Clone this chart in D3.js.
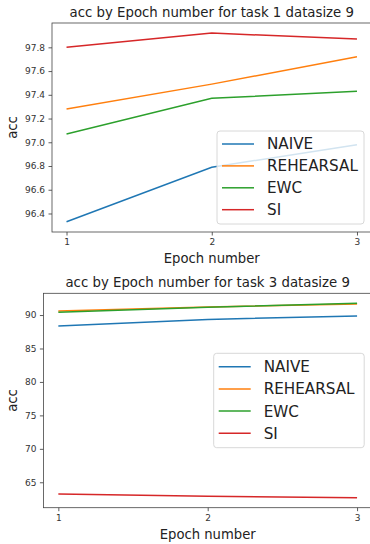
<!DOCTYPE html>
<html>
<head>
<meta charset="utf-8">
<script src="https://cdn.jsdelivr.net/npm/d3@7"></script>
<style>
  body { margin: 0; background: #fff; }
  svg { display: block; font-family: "DejaVu Sans", sans-serif; }
</style>
</head>
<body>
<script>
const epochs = [1, 2, 3];
const methods = ["NAIVE", "REHEARSAL", "EWC", "SI"];
const colors = ["#1f77b4", "#ff7f0e", "#2ca02c", "#d62728"];

// task 1
const task1Naive = [96.33, 96.79, 96.98];
const task1Rehearsal = [97.28, 97.49, 97.72];
const task1Ewc = [97.07, 97.37, 97.43];
const task1Si = [97.80, 97.92, 97.87];
const task1Ticks = [96.4, 96.6, 96.8, 97.0, 97.2, 97.4, 97.6, 97.8];

// task 3
const task3Naive = [88.35, 89.35, 89.85];
const task3Rehearsal = [90.6, 91.2, 91.65];
const task3Ewc = [90.4, 91.15, 91.75];
const task3Si = [63.25, 62.9, 62.7];
const task3Ticks = [65, 70, 75, 80, 85, 90];

const width = 370, height = 544;
let svg = d3.select("body").append("svg")
    .attr("width", width)
    .attr("height", height);

function drawPanel(opts) {
    const {left, top, right, bottom, title, values, ticks, yDomain, fmt, legend} = opts;
    let g = svg.append("g");

    let x = d3.scaleLinear().domain([0.9, 3.1]).range([left, right]);
    let y = d3.scaleLinear().domain(yDomain).range([bottom, top]);

    // lines
    let line = d3.line().x((d, i) => x(epochs[i])).y(d => y(d));
    values.forEach((vals, i) => {
        g.append("path")
            .attr("d", line(vals))
            .attr("fill", "none")
            .attr("stroke", colors[i])
            .attr("stroke-width", 1.5);
    });

    // axes
    let xAxis = d3.axisBottom(x).tickValues(epochs).tickFormat(d3.format("d"))
        .tickSize(3.5).tickPadding(3.5);
    let yAxis = d3.axisLeft(y).tickValues(ticks).tickFormat(fmt)
        .tickSize(3.5).tickPadding(3.5);

    let xg = g.append("g").attr("transform", `translate(0,${bottom})`).call(xAxis);
    let yg = g.append("g").attr("transform", `translate(${left},0)`).call(yAxis);
    [xg, yg].forEach(a => {
        a.select(".domain").remove();
        a.selectAll(".tick line").attr("stroke", "#333").attr("stroke-width", 0.8);
        a.selectAll(".tick text").attr("fill", "#333").style("font-size", "9px")
            .style("font-family", "DejaVu Sans");
    });

    // spines
    g.append("rect")
        .attr("x", left).attr("y", top)
        .attr("width", right - left).attr("height", bottom - top)
        .attr("fill", "none").attr("stroke", "#444").attr("stroke-width", 0.8);

    // title and labels
    g.append("text")
        .attr("x", (left + right) / 2).attr("y", top - 6)
        .attr("text-anchor", "middle")
        .style("font-size", "13.3px").attr("fill", "#222")
        .text(title);
    g.append("text")
        .attr("x", (left + right) / 2).attr("y", bottom + 31)
        .attr("text-anchor", "middle")
        .style("font-size", "13.2px").attr("fill", "#222")
        .text("Epoch number");
    g.append("text")
        .attr("transform", `translate(17,${(top + bottom) / 2}) rotate(-90)`)
        .attr("text-anchor", "middle")
        .style("font-size", "13.2px").attr("fill", "#222")
        .text("acc");

    // legend
    let lg = g.append("g").attr("transform", `translate(${legend.x},${legend.y})`);
    lg.append("rect")
        .attr("width", legend.w).attr("height", legend.h)
        .attr("rx", 3)
        .attr("fill", "white").attr("fill-opacity", 0.8)
        .attr("stroke", "#d8d8d8").attr("stroke-width", 1);
    methods.forEach((m, i) => {
        let cy = legend.first + i * legend.step;
        lg.append("line")
            .attr("x1", 5).attr("x2", 37)
            .attr("y1", cy).attr("y2", cy)
            .attr("stroke", colors[i]).attr("stroke-width", 1.5);
        lg.append("text")
            .attr("x", 50).attr("y", cy)
            .attr("dy", "0.36em")
            .style("font-size", "15.2px").attr("fill", "#222")
            .text(m);
    });
}

drawPanel({
    left: 52, top: 23, right: 371.5, bottom: 232,
    title: "acc by Epoch number for task 1 datasize 9",
    values: [task1Naive, task1Rehearsal, task1Ewc, task1Si],
    ticks: task1Ticks, yDomain: [96.244, 98.005], fmt: d3.format(".1f"),
    legend: {x: 217, y: 131, w: 147, h: 93, first: 13, step: 21.9}
});

drawPanel({
    left: 43.4, top: 293.3, right: 372, bottom: 507.7,
    title: "acc by Epoch number for task 3 datasize 9",
    values: [task3Naive, task3Rehearsal, task3Ewc, task3Si],
    ticks: task3Ticks, yDomain: [61.2, 93.25], fmt: d3.format("d"),
    legend: {x: 213.7, y: 353.3, w: 150.5, h: 94.4, first: 13.4, step: 22.2}
});
</script>
</body>
</html>
